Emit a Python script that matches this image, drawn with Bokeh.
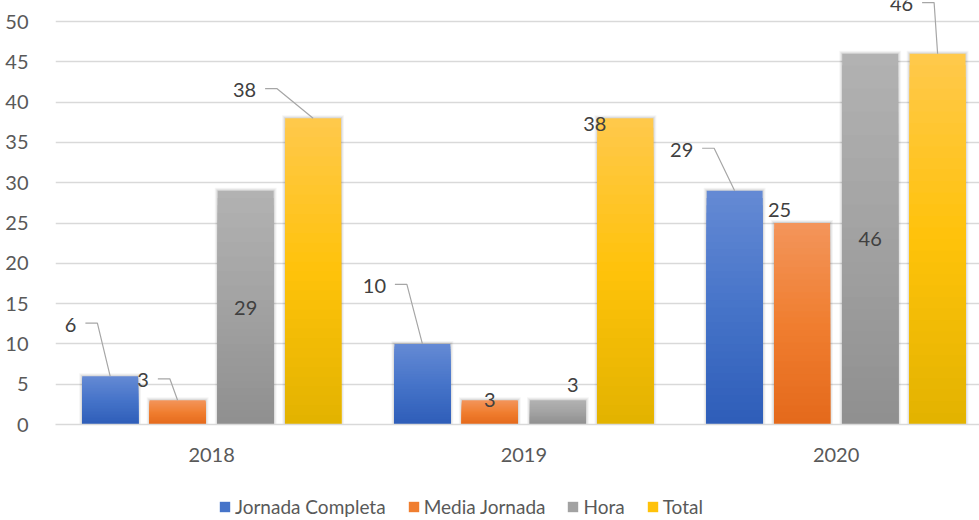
import numpy as np
from bokeh.plotting import figure
from bokeh.layouts import column
from bokeh.models import Range1d, FixedTicker, Legend, LegendItem, ColumnDataSource
from bokeh.core.properties import value
from bokeh.embed import file_html
from bokeh.resources import INLINE

# ---------------- data ----------------
years = ["2018", "2019", "2020"]
series_names = ["Jornada Completa", "Media Jornada", "Hora", "Total"]
jornada_completa = [6, 10, 29]
media_jornada = [3, 3, 25]
hora = [29, 3, 46]
total = [38, 38, 46]
y_ticks = [0, 5, 10, 15, 20, 25, 30, 35, 40, 45, 50]

# ---------------- styles ----------------
FONT = "Lato"
FS = "20px"
FS_LEG = "19px"
top_colors = ["#658AD4", "#F3955B", "#B2B2B2", "#FFC94C"]
mid_colors = ["#4674C9", "#F07E30", "#A2A2A2", "#FFC20A"]
bot_colors = ["#2E5DB8", "#E4691B", "#8F8F8F", "#E2B300"]
bar_offsets = [-0.325, -0.109, 0.109, 0.325]
bar_width = 0.179
N_SLICES = 32

W = 979
H_MAIN, H_LEG = 480, 40
B_LEFT, B_RIGHT, B_TOP, B_BOTTOM = 55, 0, 0, 56
PX_PER_CAT = 312.25
PX_PER_UNIT = 8.06
frame_w = W - B_LEFT - B_RIGHT
frame_h = H_MAIN - B_TOP - B_BOTTOM
x_end = frame_w / PX_PER_CAT
Y_TOP = frame_h / PX_PER_UNIT
pxx = frame_w / x_end
pxy = frame_h / Y_TOP

# label placement (mode, dx px, dy px) per series per year
label_place = [
    [("leader", -39.5, -51.6), ("leader", -48, -58), ("leader", -53, -41)],
    [("leader", -34.5, -20), ("at", 0, 0), ("at", -22.5, -13)],
    [("mid", 0, 0), ("at", 15, -15), ("mid", 0, 0)],
    [("leader", -68.5, -28), ("at", -30.5, 6), ("leader", -36, -49.7)],
]

values = [jornada_completa, media_jornada, hora, total]


def hex2rgb(h):
    return np.array([int(h[i:i + 2], 16) for i in (1, 3, 5)], dtype=float)


def grad(c_top, c_mid, c_bot, f):
    a, b, c = hex2rgb(c_top), hex2rgb(c_mid), hex2rgb(c_bot)
    if f < 0.5:
        col = a + (b - a) * (f / 0.5)
    else:
        col = b + (c - b) * ((f - 0.5) / 0.5)
    return "#%02x%02x%02x" % tuple(int(round(v)) for v in col)


p = figure(width=W, height=H_MAIN, output_backend="svg", toolbar_location=None,
           x_range=Range1d(0, x_end), y_range=Range1d(0, Y_TOP),
           min_border_left=B_LEFT, min_border_right=B_RIGHT,
           min_border_top=B_TOP, min_border_bottom=B_BOTTOM,
           background_fill_color="white", border_fill_color="white")
p.outline_line_color = None
p.xgrid.grid_line_color = None
p.ygrid.grid_line_color = "#D9D9D9"
p.ygrid.grid_line_width = 1.3
p.yaxis.ticker = FixedTicker(ticks=y_ticks)
p.yaxis.axis_line_color = None
p.yaxis.major_tick_line_color = None
p.yaxis.minor_tick_line_color = None
p.yaxis.major_label_text_color = "#595959"
p.yaxis.major_label_text_font = FONT
p.yaxis.major_label_text_font_size = FS
p.yaxis.major_label_standoff = 21

cat_centers = [i + 0.5 for i in range(len(years))]
p.xaxis.ticker = FixedTicker(ticks=cat_centers)
p.xaxis.major_label_overrides = {c: y for c, y in zip(cat_centers, years)}
p.xaxis.axis_line_color = "#D9D9D9"
p.xaxis.axis_line_width = 1.5
p.xaxis.major_tick_line_color = None
p.xaxis.minor_tick_line_color = None
p.xaxis.major_label_text_color = "#595959"
p.xaxis.major_label_text_font = FONT
p.xaxis.major_label_text_font_size = FS
p.xaxis.major_label_standoff = 17

# shadows
for extra, alpha in [(3, 0.04), (2, 0.05), (1, 0.07)]:
    xs, tops = [], []
    for s in range(4):
        for i in range(3):
            xs.append(cat_centers[i] + bar_offsets[s])
            tops.append(values[s][i] + extra / pxy)
    p.vbar(x=xs, top=tops, bottom=0, width=bar_width + 2 * extra / pxx,
           fill_color="black", fill_alpha=alpha, line_color=None)

for s in range(4):
    xs, tops, cols = [], [], []
    for k in range(N_SLICES):
        f = (k + 0.5) / N_SLICES
        col = grad(top_colors[s], mid_colors[s], bot_colors[s], f)
        for i in range(3):
            xs.append(cat_centers[i] + bar_offsets[s])
            tops.append(values[s][i] * (1 - k / N_SLICES))
            cols.append(col)
    src = ColumnDataSource(dict(x=xs, top=tops, color=cols))
    p.vbar(x="x", top="top", bottom=0, width=bar_width, fill_color="color",
           line_color=None, source=src)

# data labels and leader lines
lx, ly, lt = [], [], []
lead_xs, lead_ys = [], []
for s in range(4):
    for i in range(3):
        v = values[s][i]
        bx = cat_centers[i] + bar_offsets[s]
        mode, dx, dy = label_place[s][i]
        txt = str(v)
        if mode == "mid":
            lx.append(bx)
            ly.append(v / 2)
        else:
            cx = bx + dx / pxx
            cy = v - dy / pxy
            lx.append(cx)
            ly.append(cy)
            if mode == "leader":
                half = 5.75 * len(txt)
                sx = cx + (half + 9) / pxx
                ex = sx + 12 / pxx
                yy = cy + 1.5 / pxy
                lead_xs.append([sx, ex, bx])
                lead_ys.append([yy, yy, v])
        lt.append(txt)

p.multi_line(xs=lead_xs, ys=lead_ys, line_color="#A6A6A6", line_width=1.2)
p.text(x=lx, y=ly, text=lt, text_align="center", text_baseline="middle",
       text_color="#404040", text_font=value(FONT), text_font_size=FS)

# ---------------- legend strip ----------------
pl = figure(width=W, height=H_LEG, output_backend="svg", toolbar_location=None,
            x_range=Range1d(0, 1), y_range=Range1d(0, 1),
            x_axis_location=None, y_axis_location=None,
            min_border=0, background_fill_color="white",
            border_fill_color="white")
pl.outline_line_color = None
pl.grid.visible = False
items = []
for s in range(4):
    # single off-range point so that the legend swatch is drawn
    r = pl.vbar(x=[-10], top=[0], bottom=0, width=0.1,
                fill_color=mid_colors[s], line_color=None)
    items.append(LegendItem(label=series_names[s], renderers=[r], index=0))

legend = Legend(items=items, orientation="horizontal",
                location=(163, 2), padding=0, margin=0, spacing=21,
                glyph_width=13, glyph_height=13, label_standoff=4,
                label_height=14,
                label_text_font=FONT, label_text_font_size=FS_LEG,
                label_text_color="#595959",
                border_line_color=None, background_fill_alpha=0)
pl.add_layout(legend, "center")

layout = column(p, pl, spacing=0)
open("out.html", "w").write(file_html(layout, INLINE))
